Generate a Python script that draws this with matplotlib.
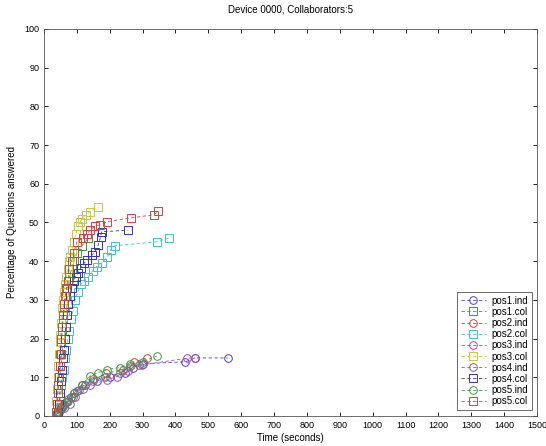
import matplotlib
matplotlib.use("Agg")
import matplotlib.pyplot as plt

plt.rcParams['font.family'] = ['Liberation Sans', 'DejaVu Sans']

# lower group: individual answers (circles)
pos1_ind_t = [40, 52, 66, 82, 100, 125, 160, 200, 245, 270, 300, 430, 460, 559]
pos1_ind_p = [0.5, 2, 3.5, 5, 6.5, 8, 9, 10, 11, 12.5, 13.5, 14, 15, 15]
pos2_ind_t = [38, 46, 58, 72, 90, 115, 150, 190, 240, 275, 312]
pos2_ind_p = [0.5, 1, 2.5, 4, 6, 8, 9.5, 11, 12, 14, 15]
pos3_ind_t = [42, 55, 70, 88, 105, 140, 191, 221, 257, 297, 434, 459]
pos3_ind_p = [1, 2, 3.5, 5, 6.7, 8, 9.3, 10.2, 11.5, 13.2, 14.9, 15]
pos4_ind_t = [40, 50, 62, 79, 95, 120, 150, 185, 230, 262, 290]
pos4_ind_p = [0.5, 1.5, 2, 3, 5, 7, 9, 10, 11, 12.8, 13.3]
pos5_ind_t = [39, 48, 60, 74, 92, 115, 140, 165, 191, 230, 262, 300, 343]
pos5_ind_p = [1, 2, 3, 4.5, 6, 8, 10.3, 11.2, 12, 12.5, 13.4, 14, 15.5]

# upper group: collaborative answers (squares)
pos1_col_t = [38, 40, 42, 44, 46, 48, 50, 52, 55, 58, 62, 66, 71, 77, 84, 90, 100, 115, 135]
pos1_col_p = [1, 3, 6, 8, 10, 13, 16, 19, 22, 25, 28, 31, 33, 36, 38, 40, 42, 44, 46]
pos2_col_t = [44, 47, 50, 53, 56, 60, 64, 68, 72, 77, 82, 88, 95, 103, 112, 122, 135, 148, 160, 175, 193, 203, 216, 343, 381]
pos2_col_p = [1, 3, 5, 8, 10, 12, 15, 17, 20, 22, 25, 27, 30, 32, 34, 35, 36, 37.5, 38.6, 39.5, 41, 43, 44, 45, 46]
pos3_col_t = [36, 38, 40, 42, 44, 46, 48, 50, 52, 54, 57, 60, 64, 68, 72, 76, 80, 85, 90, 97, 104, 110, 115, 128, 140, 165]
pos3_col_p = [1, 4, 7, 10, 13, 16, 19, 21, 24, 28, 30, 32, 34, 36, 38, 40, 41, 43, 45, 47, 49, 50, 51, 52, 52.8, 54]
pos4_col_t = [42, 45, 48, 52, 55, 58, 61, 64, 67, 70, 74, 79, 84, 90, 96, 104, 112, 122, 132, 145, 155, 165, 172, 175, 255]
pos4_col_p = [1, 3, 6, 9, 12, 15, 17, 20, 23, 26, 29, 31, 33, 35, 36, 37, 38.2, 39.5, 40.3, 41.5, 42.4, 44.2, 46.3, 47.6, 48]
pos5_col_t = [38, 40, 42, 44, 46, 48, 51, 53, 56, 58, 61, 64, 68, 72, 77, 84, 90, 100, 118, 130, 140, 155, 170, 191, 265, 335, 348]
pos5_col_p = [1, 3, 6, 8, 10, 13, 16, 20, 23, 26, 29, 31, 33, 35, 38, 40, 42, 45, 46, 47, 48, 49, 49.4, 50.2, 51.2, 52, 53]

labels = ['pos1.ind', 'pos1.col', 'pos2.ind', 'pos2.col', 'pos3.ind',
          'pos3.col', 'pos4.ind', 'pos4.col', 'pos5.ind', 'pos5.col']
series = [(pos1_ind_t, pos1_ind_p), (pos1_col_t, pos1_col_p),
          (pos2_ind_t, pos2_ind_p), (pos2_col_t, pos2_col_p),
          (pos3_ind_t, pos3_ind_p), (pos3_col_t, pos3_col_p),
          (pos4_ind_t, pos4_ind_p), (pos4_col_t, pos4_col_p),
          (pos5_ind_t, pos5_ind_p), (pos5_col_t, pos5_col_p)]
# matlab style b g r c m y k b g r, a bit washed out like the scan
colors = ['#4646c8', '#3c9a3c', '#c84646', '#46c0c8', '#b448c0',
          '#c8c83c', '#707070', '#3434a8', '#3c9a3c', '#c84646']

fig = plt.figure(figsize=(5.46, 4.46), dpi=100)
ax = fig.add_axes([0.0806, 0.0673, 0.903, 0.8677])

for (t, p), lab, col in zip(series, labels, colors):
    mk = 'o' if lab.endswith('ind') else 's'
    ax.plot(t, p, linestyle='--', dashes=(4, 3), linewidth=0.6, color=col,
            marker=mk, markersize=5.5, markerfacecolor='none',
            markeredgewidth=0.7, label=lab)

ax.set_xlim(0, 1500)
ax.set_ylim(0, 100)
ax.set_xticks(range(0, 1501, 100))
ax.set_yticks(range(0, 101, 10))
ax.tick_params(direction='in', top=True, right=True, labelsize=6.5,
               length=3, width=0.6)
for s in ax.spines.values():
    s.set_linewidth(0.6)
    s.set_color('#555555')

ax.set_title('Device 0000, Collaborators:5', fontsize=7, pad=12)
ax.set_xlabel('Time (seconds)', fontsize=7, labelpad=2)
ax.set_ylabel('Percentage of Questions answered', fontsize=7, labelpad=5)

leg = ax.legend(loc='lower right', bbox_to_anchor=(0.999, 0.004), fontsize=7,
                handlelength=2.6, labelspacing=0.12, borderpad=0.35,
                handletextpad=0.6, fancybox=False, framealpha=1,
                edgecolor='#555555')
leg.get_frame().set_linewidth(0.6)

fig.savefig('out.png', dpi=100)
